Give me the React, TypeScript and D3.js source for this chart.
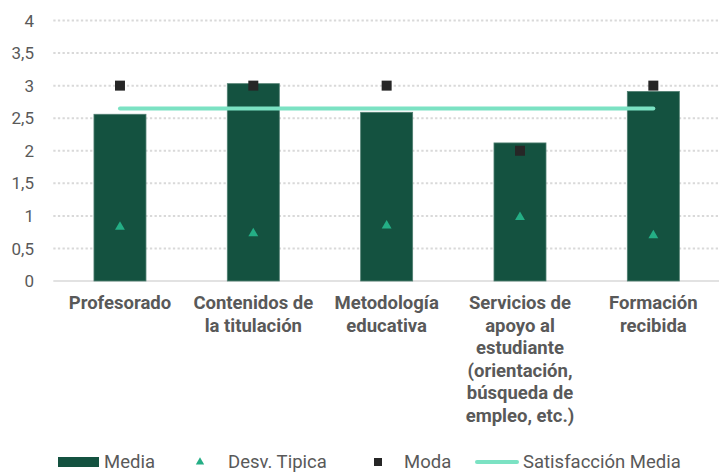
import { scaleBand, scaleLinear, symbol, symbolSquare, symbolTriangle } from 'd3';

const categories = [
  ['Profesorado'],
  ['Contenidos de', 'la titulación'],
  ['Metodología', 'educativa'],
  ['Servicios de', 'apoyo al', 'estudiante', '(orientación,', 'búsqueda de', 'empleo, etc.)'],
  ['Formación', 'recibida'],
];
const media = [2.56, 3.03, 2.59, 2.12, 2.91];
const desvTipica = [0.83, 0.73, 0.85, 0.98, 0.7];
const moda = [3, 3, 3, 2, 3];
const satisfaccionMedia = 2.65;
const yTicks = [0, 0.5, 1, 1.5, 2, 2.5, 3, 3.5, 4];

const WIDTH = 719;
const HEIGHT = 472;
const MARGIN = { top: 20.5, right: -1, bottom: 191, left: 53.3 };

const COLORS = {
  bar: '#145240',
  barStroke: '#4f7f71',
  triangle: '#24ae85',
  square: '#262626',
  line: '#7be2c3',
  grid: '#d9d9d9',
  text: '#595959',
};

const FONT = 'Roboto, "Noto Sans", sans-serif';

export default function App() {
  const x = scaleBand<number>()
    .domain(categories.map((_, i) => i))
    .range([MARGIN.left, WIDTH - MARGIN.right])
    .paddingInner(0.61)
    .paddingOuter(0.305);
  const y = scaleLinear().domain([0, 4]).range([HEIGHT - MARGIN.bottom, MARGIN.top]);
  const center = (i: number) => (x(i) ?? 0) + x.bandwidth() / 2;

  const triangle = symbol().type(symbolTriangle).size(42)() ?? '';
  const square = symbol().type(symbolSquare).size(100)() ?? '';
  const legendTriangle = symbol().type(symbolTriangle).size(30)() ?? '';
  const legendSquare = symbol().type(symbolSquare).size(64)() ?? '';

  const lineY = y(satisfaccionMedia);

  return (
    <>
      <style>{'body{margin:0}'}</style>
      <svg width={WIDTH} height={HEIGHT} style={{ display: 'block', background: '#fff' }} fontFamily={FONT}>
        {/* dotted grid */}
        {yTicks.slice(1).map((t) => (
          <line
            key={`grid-${t}`}
            x1={MARGIN.left}
            x2={WIDTH}
            y1={y(t)}
            y2={y(t)}
            stroke={COLORS.grid}
            strokeWidth={2}
            strokeDasharray="2.3 2.3"
          />
        ))}
        <line x1={MARGIN.left} x2={WIDTH} y1={y(0)} y2={y(0)} stroke={COLORS.grid} strokeWidth={1.5} />

        {/* y tick labels */}
        {yTicks.map((t) => (
          <text
            key={`tick-${t}`}
            x={34}
            y={y(t)}
            dy="0.36em"
            textAnchor="end"
            fontSize={17}
            fill={COLORS.text}
          >
            {String(t).replace('.', ',')}
          </text>
        ))}

        {/* bars */}
        {media.map((v, i) => (
          <rect
            key={`bar-${i}`}
            x={x(i)}
            y={y(v)}
            width={x.bandwidth()}
            height={y(0) - y(v)}
            fill={COLORS.bar}
            stroke={COLORS.barStroke}
            strokeWidth={0.8}
          />
        ))}

        {/* satisfacción media line */}
        <line
          x1={center(0)}
          x2={center(categories.length - 1)}
          y1={lineY}
          y2={lineY}
          stroke={COLORS.line}
          strokeWidth={4}
          strokeLinecap="round"
        />

        {/* desv. típica */}
        {desvTipica.map((v, i) => (
          <path key={`tri-${i}`} d={triangle} transform={`translate(${center(i)},${y(v)})`} fill={COLORS.triangle} />
        ))}

        {/* moda */}
        {moda.map((v, i) => (
          <path key={`sq-${i}`} d={square} transform={`translate(${center(i)},${y(v)})`} fill={COLORS.square} />
        ))}

        {/* category labels */}
        {categories.map((lines, i) => (
          <text
            key={`cat-${i}`}
            x={center(i)}
            textAnchor="middle"
            fontSize={18.5}
            fontWeight={700}
            fill={COLORS.text}
          >
            {lines.map((ln, j) => (
              <tspan key={j} x={center(i)} y={309 + j * 22.6}>
                {ln}
              </tspan>
            ))}
          </text>
        ))}

        {/* legend */}
        <g fontSize={18.5} fill={COLORS.text}>
          <rect x={58} y={457} width={41} height={10} fill={COLORS.bar} />
          <text x={104} y={467.5}>Media</text>
          <path d={legendTriangle} transform="translate(200,462)" fill={COLORS.triangle} />
          <text x={228} y={467.5}>Desv. Tipica</text>
          <path d={legendSquare} transform="translate(378,462)" fill={COLORS.square} />
          <text x={404} y={467.5}>Moda</text>
          <line x1={477} x2={517} y1={462} y2={462} stroke={COLORS.line} strokeWidth={4} strokeLinecap="round" />
          <text x={523} y={467.5}>Satisfacción Media</text>
        </g>
      </svg>
    </>
  );
}
